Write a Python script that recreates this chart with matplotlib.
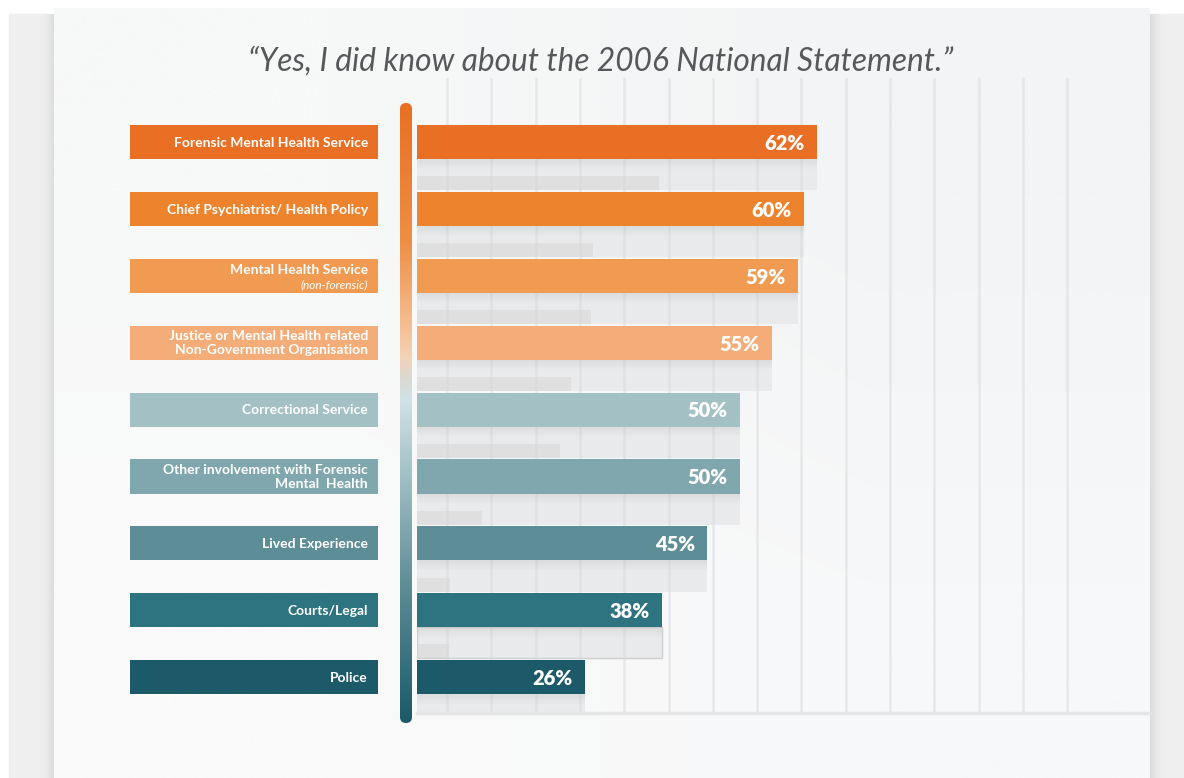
import matplotlib.pyplot as plt
import numpy as np
from matplotlib.colors import LinearSegmentedColormap, to_rgb
from matplotlib.patches import Rectangle, FancyBboxPatch

plt.rcParams['font.family'] = ['Lato', 'DejaVu Sans']

# data
categories = ["Forensic Mental Health Service",
              "Chief Psychiatrist/ Health Policy",
              "Mental Health Service",
              "Justice or Mental Health related\nNon-Government Organisation",
              "Correctional Service",
              "Other involvement with Forensic\nMental  Health",
              "Lived Experience",
              "Courts/Legal",
              "Police"]
sublabels = ["", "", "(non-forensic)", "", "", "", "", "", ""]
values = [62, 60, 59, 55, 50, 50, 45, 38, 26]
# faint grey bars left behind each bar
ghost_values = [37.5, 27.3, 27.0, 23.9, 22.2, 10.0, 5.1, 5.0, 0]
colors = ["#E96F24", "#ED842D", "#F09A52", "#F4AD78", "#A3C0C4",
          "#7FA7AD", "#5D8D96", "#2E7480", "#1C5A6A"]
title = "\u201cYes, I did know about the 2006 National Statement.\u201d"

W, H = 1184, 778
fig = plt.figure(figsize=(W / 100, H / 100), dpi=100)
fig.patch.set_facecolor("white")


def px_axes(x0, y0, x1, y1):
    return fig.add_axes([x0 / W, 1 - y1 / H, (x1 - x0) / W, (y1 - y0) / H])


# background card and panel
bg = fig.add_axes([0, 0, 1, 1])
bg.set_xlim(0, W)
bg.set_ylim(H, 0)
bg.axis("off")
bg.add_patch(Rectangle((9, 14), W - 9, H, color="#efefef", zorder=0))

# soft shadows on both sides of the card
shade = np.zeros((1, 40, 4))
shade[..., :3] = 0.55
shade[0, :, 3] = np.linspace(0, 0.45, 40) ** 2
bg.imshow(shade, extent=(40, 54, H, 14), aspect="auto", zorder=1)
bg.imshow(shade[:, ::-1], extent=(1150, 1166, H, 14), aspect="auto", zorder=1)

card = np.ones((2, 2, 3))
card[0, 0] = to_rgb("#f7f8f8")
card[0, 1] = to_rgb("#f3f4f5")
card[1, 0] = to_rgb("#fafafa")
card[1, 1] = to_rgb("#f7f8f9")
bg.imshow(card, extent=(54, 1150, H, 8), aspect="auto", interpolation="bilinear", zorder=2)

bg.text(601, 71, title, ha="center", va="baseline", fontsize=22.8, style="italic",
        color="#56585a", zorder=5)

# vertical gradient stick
stick_cmap = LinearSegmentedColormap.from_list(
    "stick", [(0.0, "#E96F22"), (0.22, "#EE8E45"), (0.36, "#F5BE92"),
              (0.41, "#F4D3B8"), (0.44, "#DCD8D0"), (0.48, "#D0E2E6"),
              (0.62, "#9BBBC0"), (0.78, "#5E8D96"), (1.0, "#1B5A6A")])
grad = np.linspace(0, 1, 256).reshape(-1, 1)
im = bg.imshow(grad, cmap=stick_cmap, extent=(400, 412, 723, 103), aspect="auto", zorder=6)
clip = FancyBboxPatch((400, 103), 12, 620, boxstyle="round,pad=0,rounding_size=6",
                      transform=bg.transData, facecolor="none", edgecolor="none")
bg.add_patch(clip)
im.set_clip_path(clip)

# main bar axes
y = np.arange(len(values))
xmax = (1150 - 417) / 6.45
ylim = (8.535, -0.957)

ax = px_axes(417, 78, 1150, 713)
ax.set_xlim(0, xmax)
ax.set_ylim(*ylim)
ax.axis("off")

ax.barh(y + 0.485, values, height=0.47, color="#e9eaeb", zorder=2)
ax.barh(y + 0.615, ghost_values, height=0.21, color="#dfdfdf", zorder=2.5)
ax.barh(7 + 0.485, values[7], height=0.47, facecolor="none", edgecolor="#cfcfcf",
        lw=1, zorder=2.6)

grid_x = 4.65 + 6.87 * np.arange(15)
for gx in grid_x:
    ax.axvline(gx, color="#d8d9da", lw=1.8, alpha=0.5, zorder=2.7)
ax.axhline(ylim[0], color="#e4e5e6", lw=2.5, zorder=2.7, clip_on=False)

# drop shadow under each bar
for k in range(8):
    ax.barh(y + 0.254 + 0.018 * k + 0.009, values, height=0.018,
            color="#9a9a9a", alpha=0.16 * (1 - k / 8), lw=0, zorder=2.8)

ax.barh(y, values, height=0.51, color=colors, zorder=3)
for yi, v in zip(y, values):
    ax.text(v - 1.9, yi + 0.02, f"{v}%", ha="right", va="center", color="white",
            fontsize=14.5, fontweight="heavy", zorder=4)

# label boxes
lab = px_axes(130, 78, 378, 713)
lab.set_xlim(0, 1)
lab.set_ylim(*ylim)
lab.axis("off")
lab.barh(y, 1, height=0.51, color=colors)
for yi, name, sub in zip(y, categories, sublabels):
    if sub:
        lab.text(0.96, yi - 0.08, name, ha="right", va="center", color="white",
                 fontsize=10, fontweight="bold")
        lab.text(0.96, yi + 0.13, sub, ha="right", va="center", color="white",
                 fontsize=8.5, style="italic")
    else:
        lab.text(0.96, yi + 0.01, name, ha="right", va="center", color="white",
                 fontsize=10, fontweight="bold", linespacing=1.2,
                 multialignment="right")

fig.savefig("out.png", dpi=100)
